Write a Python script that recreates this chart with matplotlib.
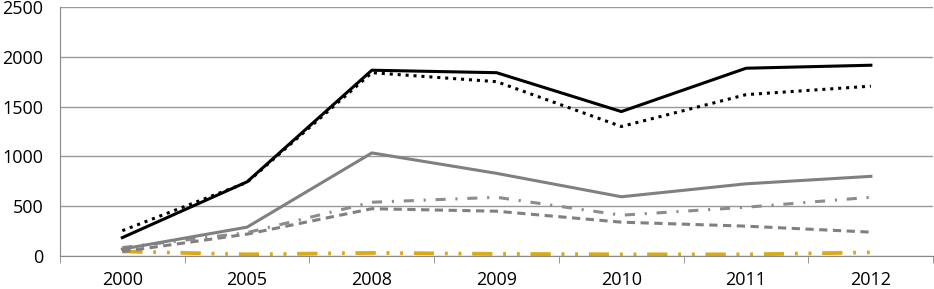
import matplotlib

matplotlib.use("Agg")

import matplotlib.pyplot as plt
import numpy as np

anos = ["2000", "2005", "2008", "2009", "2010", "2011", "2012"]

preto_solido = [185, 745, 1865, 1840, 1450, 1885, 1915]
preto_pontilhado = [255, 740, 1840, 1750, 1300, 1620, 1705]
cinza_solido = [70, 290, 1035, 830, 595, 725, 800]
cinza_traco_ponto = [85, 235, 540, 590, 410, 490, 590]
cinza_tracejado = [45, 220, 475, 450, 340, 300, 240]
dourado = [50, 20, 35, 25, 20, 20, 40]
laranja = [45, 15, 30, 20, 15, 15, 35]

plt.rcParams["font.family"] = ["Open Sans", "DejaVu Sans"]

x = np.arange(len(anos))

fig = plt.figure(figsize=(9.34, 2.89), dpi=100)
ax = fig.add_axes([0.0642, 0.114, 0.935, 0.862])

padrao_ouro = (6, 3.3, 0.8, 3.3, 0.8, 3.3)
ax.plot(x, laranja, color="#E8960C", lw=2.4, dashes=padrao_ouro)
ax.plot(x, dourado, color="#D4B21A", lw=2.4, dashes=padrao_ouro, alpha=0.8)
ax.plot(x, cinza_tracejado, color="#808080", lw=2.2, dashes=(2.7, 1.8))
ax.plot(x, cinza_traco_ponto, color="#8c8c8c", lw=2.2, dashes=(3.3, 3.2, 0.7, 3.2))
ax.plot(x, cinza_solido, color="#808080", lw=2.2)
ax.plot(x, preto_pontilhado, color="black", lw=2.2, dashes=(1, 1.6))
ax.plot(x, preto_solido, color="black", lw=2.2)

ax.set_xlim(-0.5, len(anos) - 0.5)
ax.set_ylim(0, 2500)
ax.set_yticks(np.arange(0, 2501, 500))
ax.set_xticks(x, anos)
ax.set_xticks(np.arange(-0.5, len(anos)), minor=True)
ax.tick_params(axis="x", which="major", length=0, pad=11, labelsize=13)
ax.tick_params(axis="x", which="minor", length=5, color="#888888")
ax.tick_params(axis="y", length=0, pad=12, labelsize=13)
ax.grid(axis="y", color="#999999", lw=1)
ax.set_axisbelow(True)

for lado in ["top", "right"]:
    ax.spines[lado].set_visible(False)
for lado in ["left", "bottom"]:
    ax.spines[lado].set_color("#888888")

fig.savefig("out.png", dpi=100)
